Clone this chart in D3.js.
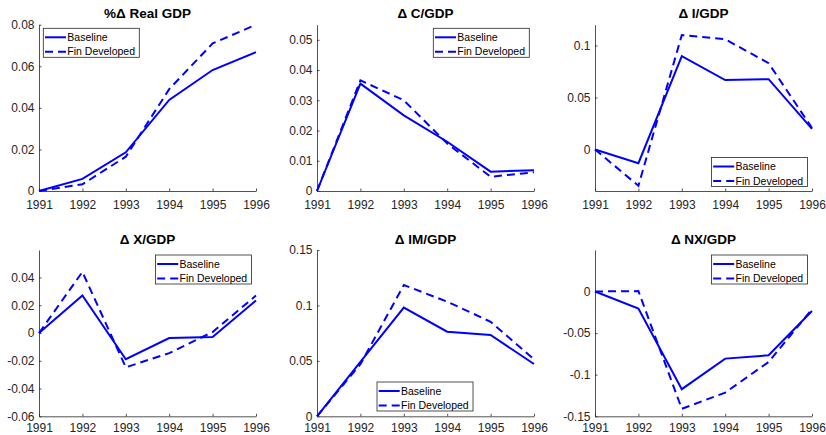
<!DOCTYPE html>
<html>
<head>
<meta charset="utf-8">
<script src="https://cdn.jsdelivr.net/npm/d3@7"></script>
<style>
  body { margin: 0; background: #fff; }
  svg { display: block; font-family: "Liberation Sans", Arial, sans-serif; }
</style>
</head>
<body>
<script>
// data
var years = [1991, 1992, 1993, 1994, 1995, 1996];
var titles = ["%\u0394 Real GDP", "\u0394 C/GDP", "\u0394 I/GDP", "\u0394 X/GDP", "\u0394 IM/GDP", "\u0394 NX/GDP"];
var seriesNames = ["Baseline", "Fin Developed"];

var baseline = [
  [0, 0.0058, 0.0186, 0.0438, 0.0582, 0.0668],
  [0, 0.0355, 0.0250, 0.0163, 0.0064, 0.0069],
  [0, -0.0133, 0.0898, 0.0667, 0.0676, 0.0197],
  [0, 0.0270, -0.0189, -0.0036, -0.0029, 0.0234],
  [0, 0.0490, 0.0980, 0.0763, 0.0733, 0.0472],
  [0, -0.0206, -0.1174, -0.0807, -0.0767, -0.0235]
];
var finDev = [
  [0, 0.0032, 0.0165, 0.0490, 0.0710, 0.0800],
  [0, 0.0366, 0.0300, 0.0157, 0.0047, 0.0062],
  [0, -0.0350, 0.1100, 0.1060, 0.0830, 0.0206],
  [0, 0.0440, -0.0247, -0.0145, 0.0007, 0.0270],
  [0, 0.0470, 0.1184, 0.1034, 0.0853, 0.0514],
  [0, 0.0004, -0.1410, -0.1215, -0.0847, -0.0214]
];
var yDomains = [[0, 0.08], [0, 0.055], [-0.04, 0.12], [-0.06, 0.0598], [0, 0.15], [-0.15, 0.0498]];
var yTicks = [
  [0, 0.02, 0.04, 0.06, 0.08],
  [0, 0.01, 0.02, 0.03, 0.04, 0.05],
  [0, 0.05, 0.1],
  [-0.06, -0.04, -0.02, 0, 0.02, 0.04],
  [0, 0.05, 0.1, 0.15],
  [-0.15, -0.1, -0.05, 0]
];
var yLabels = [
  ["0", "0.02", "0.04", "0.06", "0.08"],
  ["0", "0.01", "0.02", "0.03", "0.04", "0.05"],
  ["0", "0.05", "0.1"],
  ["-0.06", "-0.04", "-0.02", "0", "0.02", "0.04"],
  ["0", "0.05", "0.1", "0.15"],
  ["-0.15", "-0.1", "-0.05", "0"]
];

// layout
var W = 826, H = 435;
var colLeft = [39, 317, 595], plotW = 217;
var rowTop = [24.7, 250], rowBot = [191, 416.3];
var xPad = [9, 7.5];
// legend top-left corner relative to the axes box
var legendPos = [[4.3, 3.6], [116.3, 3.6], [116.5, 132.8], [116.5, 5], [60, 132], [116.5, 5]];
var legW = 96, legH = 29;
var ink = "#262626", blue = "#0000ff", dash = "8,5";

var svg = d3.select("body").append("svg")
  .attr("width", W).attr("height", H);

titles.forEach(function(title, i) {
  var c = i % 3, r = Math.floor(i / 3);
  var x0 = colLeft[c], y0 = rowTop[r], y1 = rowBot[r];
  var g = svg.append("g");

  var x = d3.scaleLinear().domain([years[0], years[years.length - 1]]).range([x0, x0 + plotW]);
  var y = d3.scaleLinear().domain(yDomains[i]).range([y1, y0]);

  var xAxis = g.append("g").attr("transform", "translate(0," + y1 + ")")
    .call(d3.axisBottom(x).tickValues(years).tickFormat(d3.format("d")).tickSizeInner(-2.5).tickSizeOuter(0).tickPadding(xPad[r]));
  var yAxis = g.append("g").attr("transform", "translate(" + x0 + ",0)")
    .call(d3.axisLeft(y).tickValues(yTicks[i]).tickFormat(function(d, k) { return yLabels[i][k]; })
      .tickSizeInner(-2.5).tickSizeOuter(0).tickPadding(4.5));
  [xAxis, yAxis].forEach(function(a) {
    a.select(".domain").attr("stroke", ink).attr("stroke-width", 0.8);
    a.selectAll(".tick line").attr("stroke", ink).attr("stroke-width", 0.8);
    a.selectAll("text").attr("fill", ink).attr("font-size", "12px");
  });

  g.append("text")
    .attr("x", x0 + plotW / 2).attr("y", y0 - 6.4)
    .attr("text-anchor", "middle")
    .attr("font-weight", "bold").attr("font-size", "13.5px").attr("fill", "#000")
    .text(title);

  var line = d3.line().x(function(d, k) { return x(years[k]); }).y(function(d) { return y(d); });
  g.append("path").datum(baseline[i]).attr("d", line)
    .attr("fill", "none").attr("stroke", blue).attr("stroke-width", 2);
  g.append("path").datum(finDev[i]).attr("d", line)
    .attr("fill", "none").attr("stroke", blue).attr("stroke-width", 2).attr("stroke-dasharray", dash);

  // legend
  var lx = x0 + legendPos[i][0], ly = y0 + legendPos[i][1];
  var lg = g.append("g").attr("transform", "translate(" + lx + "," + ly + ")");
  lg.append("rect").attr("width", legW).attr("height", legH)
    .attr("fill", "#fff").attr("stroke", ink).attr("stroke-width", 0.8);
  seriesNames.forEach(function(name, k) {
    var yy = 9 + k * 14.4;
    lg.append("line").attr("x1", 1.7).attr("x2", 22.7).attr("y1", yy).attr("y2", yy)
      .attr("stroke", blue).attr("stroke-width", 2)
      .attr("stroke-dasharray", k === 1 ? dash : null);
    lg.append("text").attr("x", 24).attr("y", yy).attr("dy", "0.35em")
      .attr("font-size", "10.5px").attr("fill", "#000").text(name);
  });
});
</script>
</body>
</html>
